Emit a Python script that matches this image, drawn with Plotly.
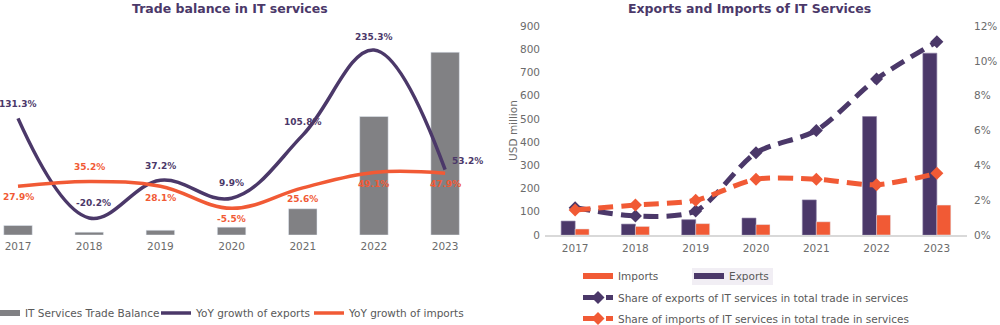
import plotly.graph_objects as go

years = ["2017", "2018", "2019", "2020", "2021", "2022", "2023"]

# Right chart data
exports = [60, 47, 66, 73, 151, 510, 783]          # USD million
imports = [26, 37, 49, 45, 57, 86, 129]            # USD million
share_exports = [0.0157, 0.0109, 0.0138, 0.0472, 0.060, 0.0896, 0.111]
share_imports = [0.0144, 0.0172, 0.0200, 0.0320, 0.0320, 0.0289, 0.0354]

# Left chart data
trade_balance = [e - i for e, i in zip(exports, imports)]
yoy_exports = [131.3, -20.2, 37.2, 9.9, 105.8, 235.3, 53.2]
yoy_imports = [27.9, 35.2, 28.1, -5.5, 25.6, 49.1, 47.9]

PURPLE = "#4b3869"
ORANGE = "#f15a35"
GRAY = "#818184"
FONT = "DejaVu Sans"
TXT = "#595959"
TICK = "#6b6b6b"

fig = go.Figure()

# ---------- Left chart ----------
fig.add_trace(go.Bar(x=years, y=trade_balance, width=0.4, marker_color=GRAY,
                     xaxis="x", yaxis="y", showlegend=False))
fig.add_trace(go.Scatter(x=[None], y=[None], mode="lines", name="IT Services Trade Balance",
                         line=dict(color=GRAY, width=6), xaxis="x", yaxis="y", legend="legend"))
fig.add_trace(go.Scatter(x=years, y=yoy_exports, mode="lines", name="YoY growth of exports",
                         line=dict(color=PURPLE, width=3.5, shape="spline", smoothing=1.1),
                         xaxis="x", yaxis="y2", legend="legend2"))
fig.add_trace(go.Scatter(x=years, y=yoy_imports, mode="lines", name="YoY growth of imports",
                         line=dict(color=ORANGE, width=3.5, shape="spline", smoothing=1.1),
                         xaxis="x", yaxis="y2", legend="legend3"))

# ---------- Right chart ----------
fig.add_trace(go.Bar(x=years, y=exports, width=0.232, offset=-0.232, marker_color=PURPLE,
                     marker_line=dict(color="#8a7ca3", width=0.6),
                     xaxis="x2", yaxis="y3", showlegend=False))
fig.add_trace(go.Bar(x=years, y=imports, width=0.232, offset=0.0, marker_color=ORANGE,
                     xaxis="x2", yaxis="y3", showlegend=False))
fig.add_trace(go.Scatter(x=[None], y=[None], mode="lines", name="Imports",
                         line=dict(color=ORANGE, width=6), xaxis="x2", yaxis="y3", legend="legend4"))
fig.add_trace(go.Scatter(x=[None], y=[None], mode="lines", name="Exports",
                         line=dict(color=PURPLE, width=6), xaxis="x2", yaxis="y3", legend="legend5"))
fig.add_trace(go.Scatter(x=years, y=share_exports, mode="lines+markers",
                         name="Share of exports of IT services in total trade in services",
                         line=dict(color=PURPLE, width=5, dash="15px,8px", shape="spline", smoothing=0.8),
                         marker=dict(symbol="diamond", size=10, color=PURPLE),
                         xaxis="x2", yaxis="y4", legend="legend6"))
fig.add_trace(go.Scatter(x=years, y=share_imports, mode="lines+markers",
                         name="Share of imports of IT services in total trade in services",
                         line=dict(color=ORANGE, width=5, dash="15px,8px", shape="spline", smoothing=0.8),
                         marker=dict(symbol="diamond", size=10, color=ORANGE),
                         xaxis="x2", yaxis="y4", legend="legend7"))

# ---------- Data labels (left chart) ----------
exp_dx = [0, 4, 0, 0, 0, 0, 22]
exp_dy = [14, 15, 14, 15, 13, 13, 9]
imp_dx = [0, 0, 0, 0, 0, 0, 0]
imp_dy = [-11, 15, -11.5, -11, -11, -12, -11]

annotations = []
for i, yr in enumerate(years):
    annotations.append(dict(x=i, y=yoy_exports[i], xref="x", yref="y2", text=f"<b>{yoy_exports[i]:.1f}%</b>",
                            showarrow=False, xshift=exp_dx[i], yshift=exp_dy[i],
                            font=dict(family=FONT, size=9, color=PURPLE)))
    annotations.append(dict(x=i, y=yoy_imports[i], xref="x", yref="y2", text=f"<b>{yoy_imports[i]:.1f}%</b>",
                            showarrow=False, xshift=imp_dx[i], yshift=imp_dy[i],
                            font=dict(family=FONT, size=9, color=ORANGE)))

# Titles
annotations.append(dict(x=0.23, y=1.0, xref="paper", yref="paper", yshift=8, xanchor="center",
                        text="<b>Trade balance in IT services</b>", showarrow=False,
                        font=dict(family=FONT, size=12.5, color=PURPLE), yanchor="bottom"))
annotations.append(dict(x=0.749, y=1.0, xref="paper", yref="paper", yshift=8, xanchor="center",
                        text="<b>Exports and Imports of IT Services</b>", showarrow=False,
                        font=dict(family=FONT, size=12.5, color=PURPLE), yanchor="bottom"))

tickfont = dict(family=FONT, size=10.5, color=TICK)
legfont = dict(family=FONT, size=10.5, color=TXT)


def leg(x, y):
    return dict(orientation="h", x=x, y=y, xref="paper", yref="container",
                xanchor="left", yanchor="middle", font=legfont, bgcolor="rgba(0,0,0,0)")


fig.update_layout(
    width=1000, height=325,
    margin=dict(l=0, r=0, t=26, b=90, autoexpand=False),
    paper_bgcolor="white", plot_bgcolor="white",
    barmode="overlay",
    font=dict(family=FONT),
    annotations=annotations,
    xaxis=dict(domain=[0, 0.48], type="category", range=[-0.253, 6.49], showgrid=False,
               showline=False, ticks="", tickfont=tickfont, anchor="y", zeroline=False,
               ticklabelstandoff=3),
    yaxis=dict(range=[0, 748], visible=False, anchor="x"),
    yaxis2=dict(range=[-46.1, 271.8], visible=False, overlaying="y", anchor="x"),
    xaxis2=dict(domain=[0.545, 0.967], type="category", range=[-0.5, 6.5], showgrid=False,
                showline=True, linecolor="#d9d9d9", linewidth=1.5, ticks="",
                tickfont=tickfont, anchor="y3", ticklabelstandoff=3),
    yaxis3=dict(range=[0, 900], dtick=100, showgrid=False, zeroline=False, showline=False,
                tickfont=tickfont, anchor="x2", ticklabelstandoff=4,
                title=dict(text="USD million", font=dict(family=FONT, size=10.5, color=TICK), standoff=0)),
    yaxis4=dict(range=[0, 0.12], dtick=0.02, tickformat=".0%", showgrid=False, zeroline=False,
                showline=False, tickfont=tickfont, overlaying="y3", side="right", anchor="x2",
                ticklabelstandoff=6),
    legend=leg(-0.015, 1 - 313 / 325),
    legend2=leg(0.156, 1 - 313 / 325),
    legend3=leg(0.309, 1 - 313 / 325),
    legend4=leg(0.578, 1 - 276 / 325),
    legend5=leg(0.689, 1 - 276 / 325),
    legend6=leg(0.578, 1 - 297.5 / 325),
    legend7=leg(0.578, 1 - 318.5 / 325),
    shapes=[dict(type="rect", xref="paper", yref="paper", x0=0.692, x1=0.773,
                 y0=(235 - 285) / 209, y1=(235 - 268) / 209,
                 fillcolor="#f1eef4", line=dict(width=0), layer="below")],
)

fig.write_html("out.html")
